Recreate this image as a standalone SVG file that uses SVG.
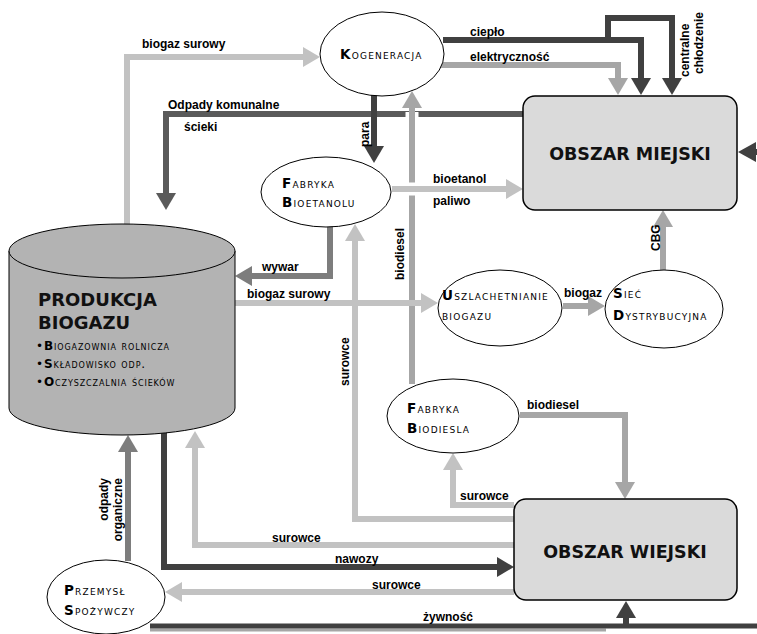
<svg xmlns="http://www.w3.org/2000/svg" width="757" height="634" viewBox="0 0 757 634">
  <style>
    .ln { fill: none; stroke-linejoin: miter; stroke-linecap: butt; }
    .w { stroke-width: 6; }
    .halo { fill: none; stroke: #ffffff; stroke-width: 13; }
    .c-dark { stroke: #404040; }
    .c-dk2 { stroke: #5a5a5a; }
    .c-mid { stroke: #7d7d7d; }
    .c-ml { stroke: #a6a6a6; }
    .c-lt { stroke: #c2c2c2; }
    .lbl { font-family: "Liberation Sans", Arial, sans-serif; font-weight: bold; font-size: 12px; fill: #000; }
    .node { fill: #ffffff; stroke: #000; stroke-width: 1; }
    .nt { font-family: "DejaVu Sans", Verdana, sans-serif; font-size: 13.5px; font-variant: small-caps; letter-spacing: 1.2px; fill: #000; }
    .nt .b { font-weight: bold; }
    .sm { font-size: 12px; letter-spacing: 0.9px; }
    .box { fill: #dadada; stroke: #000; stroke-width: 1.5; }
    .bt { font-family: "DejaVu Sans", Verdana, sans-serif; font-weight: bold; font-size: 17.5px; fill: #111; text-anchor: middle; }
  </style>
  <defs>
    <marker id="a-dark" markerUnits="userSpaceOnUse" markerWidth="17" markerHeight="20" viewBox="0 0 17 20" refX="0" refY="10" orient="auto"><path d="M0,0 L17,10 L0,20 Z" fill="#404040"/></marker>
    <marker id="a-dk2" markerUnits="userSpaceOnUse" markerWidth="17" markerHeight="20" viewBox="0 0 17 20" refX="0" refY="10" orient="auto"><path d="M0,0 L17,10 L0,20 Z" fill="#5a5a5a"/></marker>
    <marker id="a-mid" markerUnits="userSpaceOnUse" markerWidth="17" markerHeight="20" viewBox="0 0 17 20" refX="0" refY="10" orient="auto"><path d="M0,0 L17,10 L0,20 Z" fill="#7d7d7d"/></marker>
    <marker id="a-ml" markerUnits="userSpaceOnUse" markerWidth="17" markerHeight="20" viewBox="0 0 17 20" refX="0" refY="10" orient="auto"><path d="M0,0 L17,10 L0,20 Z" fill="#a6a6a6"/></marker>
    <marker id="a-lt" markerUnits="userSpaceOnUse" markerWidth="17" markerHeight="20" viewBox="0 0 17 20" refX="0" refY="10" orient="auto"><path d="M0,0 L17,10 L0,20 Z" fill="#c2c2c2"/></marker>
  </defs>

  <rect width="757" height="634" fill="#ffffff"/>

  <!-- flows between the nodes -->
  <g id="connectors">
    <!-- biogaz surowy -> kogeneracja -->
    <path class="ln w c-lt" d="M127,226 V57 H303" marker-end="url(#a-lt)"/>
    <!-- odpady komunalne / scieki -> produkcja biogazu -->
    <path class="ln w c-dk2" d="M523,114 H166 V193" marker-end="url(#a-dk2)"/>
    <!-- para -->
    <path class="ln w c-dark" d="M374,90 V146" marker-end="url(#a-dark)"/>
    <!-- cieplo + centralne chlodzenie -->
    <path class="ln w c-dark" d="M443,40 H641 V78" marker-end="url(#a-dark)"/>
    <path class="ln w c-dark" d="M608,40 V18 H672 V78" marker-end="url(#a-dark)"/>
    <!-- elektrycznosc -->
    <path class="ln w c-ml" d="M440,65 H618 V78" marker-end="url(#a-ml)"/>
    <!-- biodiesel -> kogeneracja -->
    <path class="halo" d="M412,380 V112"/>
    <path class="ln w c-ml" d="M412,384 V108" marker-end="url(#a-ml)"/>
    <!-- bioetanol / paliwo -->
    <path class="halo" d="M394,189 H500"/>
    <path class="ln w c-lt" d="M392,189 H506" marker-end="url(#a-lt)"/>
    <!-- wywar -->
    <path class="ln w c-mid" d="M330,226 V276 H252" marker-end="url(#a-mid)"/>
    <!-- surowce -> fabryka bioetanolu -->
    <path class="ln w c-lt" d="M514,519 H355 V241" marker-end="url(#a-lt)"/>
    <!-- biogaz surowy -> uszlachetnianie -->
    <path class="ln w c-lt" d="M235,303 H421" marker-end="url(#a-lt)"/>
    <!-- biogaz -> siec -->
    <path class="ln w c-ml" d="M563,306 H588" marker-end="url(#a-ml)"/>
    <!-- CBG -> obszar miejski -->
    <path class="ln w c-ml" d="M663,270 V227" marker-end="url(#a-ml)"/>
    <!-- surowce -> fabryka biodiesla -->
    <path class="ln w c-lt" d="M514,505 H453 V470" marker-end="url(#a-lt)"/>
    <!-- biodiesel -> obszar wiejski -->
    <path class="ln w c-ml" d="M520,415 H625 V482" marker-end="url(#a-ml)"/>
    <!-- surowce -> produkcja biogazu -->
    <path class="ln w c-lt" d="M514,545 H195 V448" marker-end="url(#a-lt)"/>
    <!-- nawozy -->
    <path class="ln w c-dark" d="M164,428 V567 H497" marker-end="url(#a-dark)"/>
    <!-- surowce -> przemysl spozywczy -->
    <path class="ln w c-lt" d="M514,592 H182" marker-end="url(#a-lt)"/>
    <!-- odpady organiczne -->
    <path class="ln w c-mid" d="M128,561 V452" marker-end="url(#a-mid)"/>
    <!-- zywnosc -->
    <path class="ln c-ml" stroke-width="3" d="M150,630 H606"/>
    <path class="ln c-dark" stroke-width="5" d="M150,626 H757"/>
    <path class="ln w c-dark" d="M626,626 V618" marker-end="url(#a-dark)"/>
    <!-- inflow to obszar miejski from the right -->
    <polygon points="738,152 756,142 756,162" fill="#404040"/>
    <path class="ln c-dark" stroke-width="6" d="M755,152 H757"/>
  </g>

  <!-- flow labels -->
  <g id="labels">
    <text class="lbl" x="142" y="48">biogaz surowy</text>
    <text class="lbl" x="168" y="109">Odpady komunalne</text>
    <text class="lbl" x="184" y="131">ścieki</text>
    <text class="lbl" transform="translate(369,147) rotate(-90)">para</text>
    <text class="lbl" x="470" y="36">ciepło</text>
    <text class="lbl" x="470" y="61">elektryczność</text>
    <text class="lbl" transform="translate(689,77) rotate(-90)">centralne</text>
    <text class="lbl" transform="translate(703,74) rotate(-90)">chłodzenie</text>
    <text class="lbl" x="433" y="183">bioetanol</text>
    <text class="lbl" x="433" y="205">paliwo</text>
    <text class="lbl" transform="translate(404,280) rotate(-90)">biodiesel</text>
    <text class="lbl" x="262" y="271">wywar</text>
    <text class="lbl" x="247" y="298">biogaz surowy</text>
    <text class="lbl" x="564" y="297">biogaz</text>
    <text class="lbl" transform="translate(660,251) rotate(-90)">CBG</text>
    <text class="lbl" transform="translate(349,386) rotate(-90)">surowce</text>
    <text class="lbl" x="527" y="409">biodiesel</text>
    <text class="lbl" x="460" y="500">surowce</text>
    <text class="lbl" x="272" y="542">surowce</text>
    <text class="lbl" x="335" y="563">nawozy</text>
    <text class="lbl" x="372" y="589">surowce</text>
    <text class="lbl" x="423" y="621">żywność</text>
    <text class="lbl" text-anchor="end" transform="translate(108,478) rotate(-90)">odpady</text>
    <text class="lbl" text-anchor="end" transform="translate(122,478) rotate(-90)">organiczne</text>
  </g>

  <g id="produkcja-biogazu">
    <path d="M9,251 V408 A113,27 0 0 0 235,408 V251" fill="#b3b3b3" stroke="#000" stroke-width="1"/>
    <ellipse cx="122" cy="251" rx="113" ry="27" fill="#b3b3b3" stroke="#000" stroke-width="1"/>
    <text x="38" y="306" font-family="DejaVu Sans, Verdana, sans-serif" font-weight="bold" font-size="18" fill="#111">PRODUKCJA</text>
    <text x="38" y="329" font-family="DejaVu Sans, Verdana, sans-serif" font-weight="bold" font-size="18" fill="#111">BIOGAZU</text>
    <text class="nt sm" x="36" y="350">•<tspan class="b">B</tspan>iogazownia rolnicza</text>
    <text class="nt sm" x="36" y="368">•<tspan class="b">S</tspan>kładowisko odp.</text>
    <text class="nt sm" x="36" y="386">•<tspan class="b">O</tspan>czyszczalnia ścieków</text>
  </g>

  <g id="kogeneracja">
    <ellipse class="node" cx="382" cy="54" rx="62" ry="42"/>
    <text class="nt" x="340" y="59"><tspan class="b">K</tspan>ogeneracja</text>
  </g>

  <g id="fabryka-bioetanolu">
    <ellipse class="node" cx="326" cy="192" rx="65" ry="35"/>
    <text class="nt" x="282" y="188"><tspan class="b">F</tspan>abryka</text>
    <text class="nt" x="282" y="207"><tspan class="b">B</tspan>ioetanolu</text>
  </g>

  <g id="uszlachetnianie-biogazu">
    <ellipse class="node" cx="500" cy="308" rx="62" ry="38"/>
    <text class="nt" x="442" y="300" letter-spacing="0.6"><tspan class="b">U</tspan>szlachetnianie</text>
    <text class="nt" x="442" y="320" letter-spacing="0.6">biogazu</text>
  </g>

  <g id="siec-dystrybucyjna">
    <ellipse class="node" cx="664" cy="309" rx="59" ry="39"/>
    <text class="nt" x="613" y="298" letter-spacing="0.8"><tspan class="b">S</tspan>ieć</text>
    <text class="nt" x="613" y="320" letter-spacing="0.8"><tspan class="b">D</tspan>ystrybucyjna</text>
  </g>

  <g id="fabryka-biodiesla">
    <ellipse class="node" cx="453" cy="416" rx="66" ry="37"/>
    <text class="nt" x="407" y="413"><tspan class="b">F</tspan>abryka</text>
    <text class="nt" x="407" y="433"><tspan class="b">B</tspan>iodiesla</text>
  </g>

  <g id="przemysl-spozywczy">
    <ellipse class="node" cx="106" cy="597" rx="59" ry="37"/>
    <text class="nt" x="64" y="595"><tspan class="b">P</tspan>rzemysł</text>
    <text class="nt" x="64" y="615"><tspan class="b">S</tspan>pożywczy</text>
  </g>

  <g id="obszar-miejski">
    <rect class="box" x="523" y="96" width="214" height="114" rx="12"/>
    <text class="bt" x="630" y="160">OBSZAR MIEJSKI</text>
  </g>

  <g id="obszar-wiejski">
    <rect class="box" x="514" y="499" width="223" height="101" rx="12"/>
    <text class="bt" x="625" y="558">OBSZAR WIEJSKI</text>
  </g>
</svg>
